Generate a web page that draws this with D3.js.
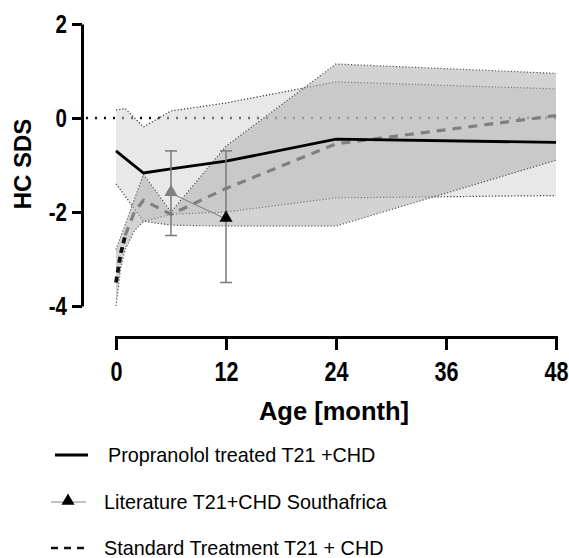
<!DOCTYPE html>
<meta charset="utf-8">
<style>
body { margin: 0; background: #fff; }
svg { display: block; font-family: "Liberation Sans", Arial, sans-serif; }
.axis path, .axis line { stroke: #000; stroke-width: 3px; }
.tick text { font-weight: bold; fill: #000; }
</style>
<body>
<svg id="chart" width="569" height="558"></svg>
<script src="https://d3js.org/d3.v7.min.js"></script>
<script>

// propranolol treated group (mean + band)
var propMonths = [0, 1, 3, 6, 12, 24, 48];
var propMean   = [-0.7, -0.86, -1.17, -1.08, -0.92, -0.45, -0.52];
var propUpper  = [0.17, 0.2, -0.19, 0.15, 0.32, 0.77, 0.62];
var propLower  = [-1.4, -1.66, -2.2, -2.05, -2.0, -1.7, -1.65];

// standard treatment group
var stdMonths = [0, 0.5, 1, 2, 3, 6, 12, 24, 48];
var stdMean   = [-3.5, -2.9, -2.5, -2.0, -1.75, -2.05, -1.5, -0.55, 0.05];
var stdUpper  = [-2.8, -2.53, -2.27, -1.73, -1.2, -2.0, -0.6, 1.15, 0.95];
var stdLower  = [-4.0, -3.2, -2.8, -2.4, -2.2, -2.28, -2.3, -2.3, -0.9];

// literature (South Africa)
var litMonths = [6, 12];
var litMean   = [-1.6, -2.15];
var litHigh   = [-0.7, -0.7];
var litLow    = [-2.5, -3.5];

var xTicks = [0, 12, 24, 36, 48];
var yTicks = [2, 0, -2, -4];

var legendLabels = ["Propranolol treated T21 +CHD", "Literature T21+CHD Southafrica", "Standard Treatment T21 + CHD"];

var svg = d3.select("#chart");

var x = d3.scaleLinear().domain([0, 48]).range([116, 556]);
var y = d3.scaleLinear().domain([-4, 2]).range([306, 24]);

function rows(months, a, b, c) {
  return months.map(function(m, i) { return {m: m, mean: a[i], hi: b ? b[i] : null, lo: c ? c[i] : null}; });
}
var prop = rows(propMonths, propMean, propUpper, propLower);
var std = rows(stdMonths, stdMean, stdUpper, stdLower);
var lit = rows(litMonths, litMean, litHigh, litLow);

// zero reference line (under the bands)
svg.append("line")
    .attr("x1", 86).attr("x2", x(48))
    .attr("y1", y(0)).attr("y2", y(0))
    .attr("stroke", "#111").attr("stroke-width", 2.4)
    .attr("stroke-dasharray", "2,7");

var area = d3.area()
    .x(function(d) { return x(d.m); })
    .y0(function(d) { return y(d.lo); })
    .y1(function(d) { return y(d.hi); });

function band(data, fill, op, edge) {
  svg.append("path").datum(data)
      .attr("d", area)
      .attr("fill", fill).attr("fill-opacity", op);
  ["hi", "lo"].forEach(function(k) {
    svg.append("path").datum(data)
        .attr("d", d3.line().x(function(d) { return x(d.m); }).y(function(d) { return y(d[k]); }))
        .attr("fill", "none").attr("stroke", edge)
        .attr("stroke-width", 1.2).attr("stroke-dasharray", "1.2,2");
  });
}
band(prop, "#d2d2d2", 0.5, "#333");
band(std, "#b4b4b4", 0.58, "#555");

var line = d3.line().x(function(d) { return x(d.m); }).y(function(d) { return y(d.mean); });

// standard treatment mean: black early part, grey afterwards
svg.append("path").datum(std.filter(function(d) { return d.m >= 1; }))
    .attr("d", line).attr("fill", "none")
    .attr("stroke", "#808080").attr("stroke-width", 3.2)
    .attr("stroke-dasharray", "9,7");
svg.append("path").datum(std.filter(function(d) { return d.m <= 1.5; }))
    .attr("d", line).attr("fill", "none")
    .attr("stroke", "#111").attr("stroke-width", 3.8)
    .attr("stroke-dasharray", "6,4");

// propranolol mean
svg.append("path").datum(prop)
    .attr("d", line).attr("fill", "none")
    .attr("stroke", "#000").attr("stroke-width", 2.8);

// literature: connecting line, error bars, triangles
svg.append("path").datum(lit)
    .attr("d", line).attr("fill", "none")
    .attr("stroke", "#888").attr("stroke-width", 1.2);

var eb = svg.selectAll(".eb").data(lit).enter().append("g").attr("class", "eb")
    .attr("stroke", "#7a7a7a").attr("stroke-width", 1.5);
eb.append("line")
    .attr("x1", function(d) { return x(d.m); }).attr("x2", function(d) { return x(d.m); })
    .attr("y1", function(d) { return y(d.hi); }).attr("y2", function(d) { return y(d.lo); });
eb.append("line")
    .attr("x1", function(d) { return x(d.m) - 6; }).attr("x2", function(d) { return x(d.m) + 6; })
    .attr("y1", function(d) { return y(d.hi); }).attr("y2", function(d) { return y(d.hi); });
eb.append("line")
    .attr("x1", function(d) { return x(d.m) - 6; }).attr("x2", function(d) { return x(d.m) + 6; })
    .attr("y1", function(d) { return y(d.lo); }).attr("y2", function(d) { return y(d.lo); });

var tri = d3.symbol().type(d3.symbolTriangle).size(75);
svg.selectAll(".tri").data(lit).enter().append("path")
    .attr("class", "tri")
    .attr("d", tri)
    .attr("transform", function(d) { return "translate(" + x(d.m) + "," + (y(d.mean) - 1) + ")"; })
    .attr("fill", function(d, i) { return i == 0 ? "#808080" : "#000"; });

// axes
var yAxis = svg.append("g").attr("class", "axis")
    .attr("transform", "translate(82,0)")
    .call(d3.axisLeft(y).tickValues(yTicks).tickFormat(function(d) { return String(d); })
      .tickSize(10).tickSizeOuter(0).tickPadding(5));
yAxis.selectAll(".tick text")
    .style("font-size", "25px")
    .attr("x", -15 / 0.82)
    .attr("transform", "scale(0.82,1)");

var xAxis = svg.append("g").attr("class", "axis")
    .attr("transform", "translate(0,337)")
    .call(d3.axisBottom(x).tickValues(xTicks).tickSize(13).tickSizeOuter(13).tickPadding(12));
xAxis.selectAll(".tick text")
    .style("font-size", "27px")
    .attr("transform", "scale(0.8,1)");

// axis titles
svg.append("text")
    .attr("transform", "translate(31,164) rotate(-90)")
    .attr("text-anchor", "middle")
    .style("font-size", "24px").style("font-weight", "bold")
    .text("HC SDS");

svg.append("text")
    .attr("x", 334).attr("y", 420)
    .attr("text-anchor", "middle")
    .style("font-size", "25.5px").style("font-weight", "bold")
    .text("Age [month]");

// legend
var lg = svg.append("g").style("font-size", "19.8px");
var ly = [455, 502, 548];
lg.append("line").attr("x1", 55).attr("x2", 88).attr("y1", ly[0]).attr("y2", ly[0])
    .attr("stroke", "#000").attr("stroke-width", 2.8);
lg.append("line").attr("x1", 51).attr("x2", 86).attr("y1", ly[1]).attr("y2", ly[1])
    .attr("stroke", "#888").attr("stroke-width", 1.2);
lg.append("path").attr("d", tri).attr("transform", "translate(68," + (ly[1] - 1) + ")").attr("fill", "#000");
lg.append("line").attr("x1", 51).attr("x2", 88).attr("y1", ly[2]).attr("y2", ly[2])
    .attr("stroke", "#111").attr("stroke-width", 2.4).attr("stroke-dasharray", "7,6");
lg.selectAll("text").data(legendLabels).enter().append("text")
    .attr("x", function(d, i) { return i == 0 ? 108 : 104; })
    .attr("y", function(d, i) { return ly[i] + 7; })
    .text(function(d) { return d; });

</script>
</body>
